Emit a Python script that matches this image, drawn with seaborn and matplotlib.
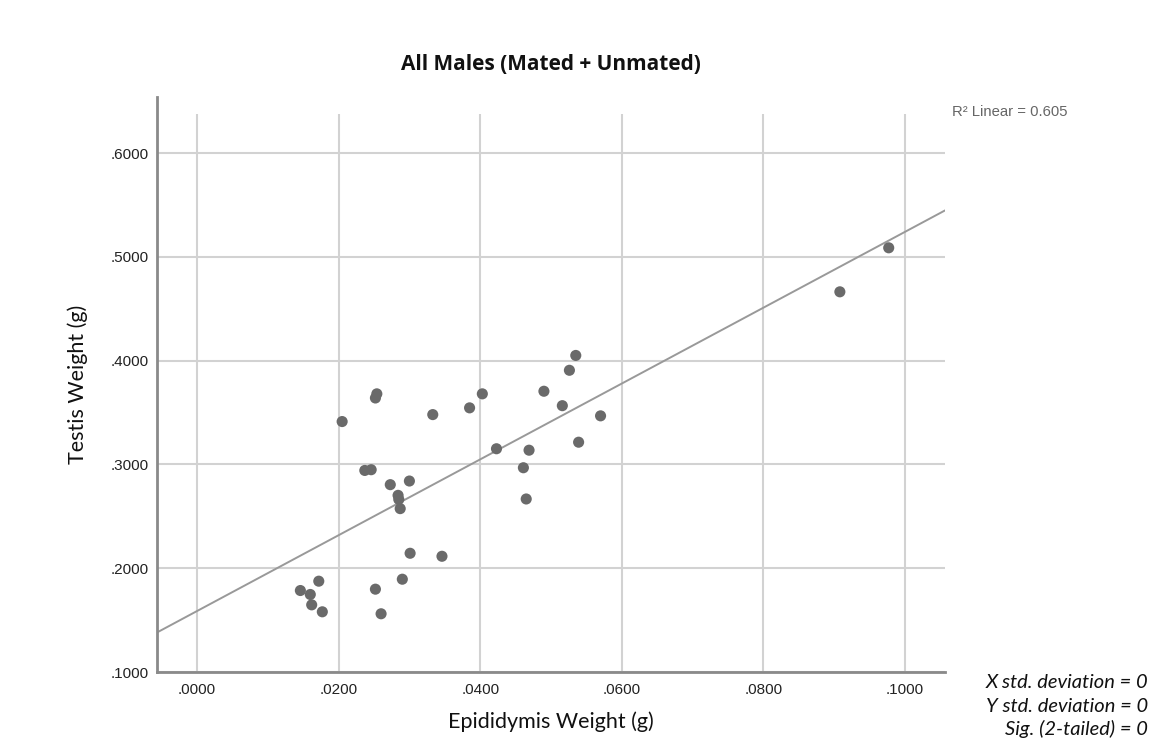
import matplotlib
matplotlib.use("Agg")
import matplotlib.pyplot as plt
import seaborn as sns
import pandas as pd
import numpy as np

# Data
epididymis_weight = [0.0205, 0.0254, 0.0252, 0.0333, 0.0385, 0.0403, 0.0535, 0.0526,
                     0.0490, 0.0516, 0.0570, 0.0539, 0.0423, 0.0469, 0.0461, 0.0465,
                     0.0237, 0.0246, 0.0273, 0.0300, 0.0284, 0.0285, 0.0287, 0.0301,
                     0.0346, 0.0290, 0.0252, 0.0260, 0.0172, 0.0146, 0.0160, 0.0162,
                     0.0177, 0.0908, 0.0977]
testis_weight = [0.3413, 0.3680, 0.3640, 0.3480, 0.3545, 0.3680, 0.4050, 0.3907,
                 0.3705, 0.3566, 0.3468, 0.3214, 0.3151, 0.3137, 0.2968, 0.2667,
                 0.2942, 0.2949, 0.2805, 0.2840, 0.2702, 0.2663, 0.2574, 0.2144,
                 0.2115, 0.1894, 0.1798, 0.1561, 0.1875, 0.1785, 0.1747, 0.1647,
                 0.1580, 0.4663, 0.5087]
x_ticks = [0.00, 0.02, 0.04, 0.06, 0.08, 0.10]
x_tick_labels = [".0000", ".0200", ".0400", ".0600", ".0800", ".1000"]
y_ticks = [0.1, 0.2, 0.3, 0.4, 0.5, 0.6]
y_tick_labels = [".1000", ".2000", ".3000", ".4000", ".5000", ".6000"]
r2_text = "R\u00b2 Linear = 0.605"
stats_lines = ["X std. deviation = 0", "Y std. deviation = 0", "Sig. (2-tailed) = 0"]

df = pd.DataFrame({"Epididymis Weight (g)": epididymis_weight,
                   "Testis Weight (g)": testis_weight})

sns.set_style("white")
plt.rcParams["font.family"] = ["Liberation Sans", "DejaVu Sans"]

fig = plt.figure(figsize=(11.52, 7.47), dpi=100)
ax = fig.add_axes([157/1152, 1-672/747, (945-157)/1152, (672-97)/747])

xmin, xmax = -0.00565, 0.10565
ymin, ymax = 0.1, 0.654
ax.set_xlim(xmin, xmax)
ax.set_ylim(ymin, ymax)

grid_color = "#d2d2d2"
# horizontal grid lines span full width; vertical ones stop a bit below the top
ax.hlines(y_ticks, xmin, xmax, color=grid_color, lw=1.5, zorder=0)
ax.vlines(x_ticks, ymin, 0.638, color=grid_color, lw=1.5, zorder=0)

sns.regplot(data=df, x="Epididymis Weight (g)", y="Testis Weight (g)", ax=ax,
            ci=None, truncate=False,
            scatter_kws=dict(s=64, color="#6a6a6a", edgecolor="none", alpha=1, zorder=3),
            line_kws=dict(color="#999999", lw=1.4, zorder=2))
ax.set_xlim(xmin, xmax)
ax.set_ylim(ymin, ymax)

ax.set_xticks(x_ticks)
ax.set_xticklabels(x_tick_labels)
ax.set_yticks(y_ticks)
ax.set_yticklabels(y_tick_labels)
ax.tick_params(axis="both", length=0, labelsize=11, colors="#222222")
ax.tick_params(axis="x", pad=8)
ax.tick_params(axis="y", pad=6)

for side in ["top", "right"]:
    ax.spines[side].set_visible(False)
for side in ["left", "bottom"]:
    ax.spines[side].set_color("#8a8a8a")
    ax.spines[side].set_linewidth(2)

label_font = ["Lato", "DejaVu Sans"]
ax.set_xlabel("Epididymis Weight (g)", fontsize=15.5, family=label_font, color="#111111", labelpad=10)
ax.set_ylabel("Testis Weight (g)", fontsize=15.5, family=label_font, color="#111111", labelpad=16)

fig.text(551/1152, 1-64/747, "All Males (Mated + Unmated)", ha="center", va="center",
         fontsize=15, fontweight="bold", family=["Open Sans", "DejaVu Sans"], color="#111111")

fig.text(952/1152, 1-112/747, r2_text, ha="left", va="center", fontsize=10.7,
         color="#666666")

for i, line in enumerate(stats_lines):
    fig.text(1-4/1152, 1-(683+23*i)/747, line, ha="right", va="center",
             fontsize=14.5, style="italic", family=label_font, color="#111111")

fig.savefig("out.png", dpi=100)
